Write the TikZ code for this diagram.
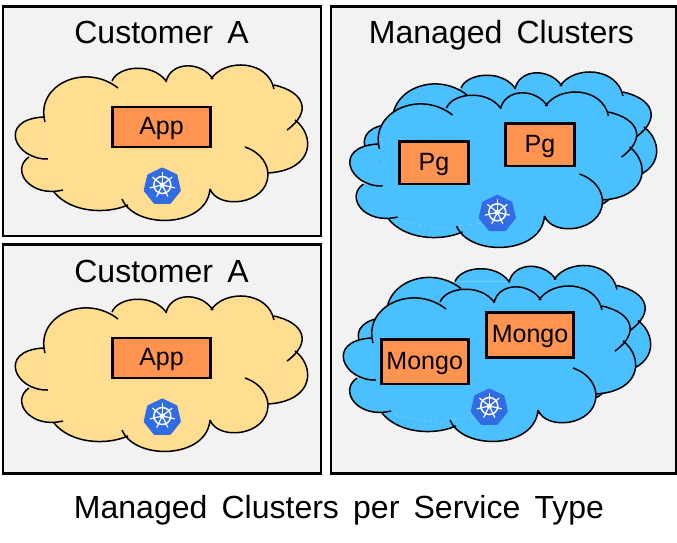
\documentclass[tikz,border=0pt]{standalone}
\usepackage{fontspec}
\setmainfont[WordSpace=1.6]{Liberation Sans}
\usetikzlibrary{positioning}
\usetikzlibrary{shapes.geometric}
\definecolor{panelgray}{HTML}{F2F2F2}
\definecolor{cloudyellow}{HTML}{FFDD91}
\definecolor{cloudblue}{HTML}{4AC0FF}
\definecolor{boxorange}{HTML}{FF9350}
\definecolor{wheelblue}{HTML}{326CE5}
\tikzset{
  panel/.style={draw=black,fill=panelgray,line width=2.6pt},
  headline/.style={anchor=base,font=\fontsize{32}{38}\selectfont,inner sep=0pt},
  svcbox/.style={draw=black,fill=boxorange,line width=2.6pt,inner sep=0pt,
    minimum height=40pt,text height=18.5pt,text depth=3pt,
    font=\fontsize{25}{29}\selectfont},
  wheelhept/.style={regular polygon,regular polygon sides=7,fill=wheelblue,draw=wheelblue,
    line width=3pt,line join=round,minimum size=35pt,inner sep=0pt},
  % one cloud, coordinates taken from the upper left one
  pics/cloudshape/.style={code={
    \fill[#1] (112,81) -- (166,81) -- (213,79) -- (274,85) -- (295,120) -- (268,173)
      -- (210,189) -- (122,199) -- (128,205) -- (54,192) -- (63,190) -- (29,157)
      -- (48,159) -- (43,117) -- (45,122) -- cycle;
    \draw[fill=#1,line width=1.5pt]
      (112,81) .. controls (118,66) and (152,62) .. (166,81)
      (166,82) .. controls (170,62) and (200,60) .. (213,79)
      (211,79) .. controls (225,58) and (268,60) .. (274,89)
      (274,85) .. controls (305,92) and (312,112) .. (287,130)
      (295,120) .. controls (315,135) and (315,170) .. (268,173)
      (245,147) .. controls (262,153) and (268,165) .. (268,175) .. controls (267,205) and (218,210) .. (210,189)
      (210,189) .. controls (207,228) and (135,230) .. (122,199)
      (128,205) .. controls (105,215) and (70,212) .. (54,192)
      (63,190) .. controls (30,198) and (10,170) .. (29,157)
      (48,159) .. controls (15,160) and (-3,120) .. (43,117)
      (45,122) .. controls (35,85) and (85,62) .. (118,88);
  }},
  % the wheel icon
  pics/wheelicon/.style={code={
    \node[wheelhept] (-hept) at (0,1.5) {};
    \draw[white,line width=1.5pt] (0,0) circle (8.5);
    \fill[white] (0,0) circle (2.6);
    \foreach \ang in {270,321.4,12.9,64.3,115.7,167.1,218.6} {
      \draw[white,line width=1.2pt,line cap=round] (0,0) -- (\ang:12.5);
    }
  }}
}
\begin{document}
\begin{tikzpicture}[x=1pt,y=-1pt]
\useasboundingbox (0,0) rectangle (677,543);
\fill[white] (0,0) rectangle (677,543);
% the three panels
\draw[panel] (3,6.5) rectangle (321,236);
\draw[panel] (3,244.5) rectangle (321,473.5);
\draw[panel] (331,6.5) rectangle (676,473.5);
% customer clouds
\pic at (0,0) {cloudshape=cloudyellow};
\pic at (0,231) {cloudshape=cloudyellow};
% managed clouds, the back one first
\pic at (349,7) {cloudshape=cloudblue};
\pic at (334.5,27) {cloudshape=cloudblue};
\pic at (343,200.5) {cloudshape=cloudblue};
\pic at (328,221) {cloudshape=cloudblue};
%%Titles
\node[headline] (titleA) at (161.5,43.5) {Customer A};
\node[headline] (titleB) at (161.5,282) {Customer A};
\node[headline] (titleC) at (501.5,43.5) {Managed Clusters};
\node[headline] (caption) at (339,518) {Managed Clusters per Service Type};
%%Service boxes
\node[svcbox,minimum width=98.5pt] (appA) at (161.5,127) {App};
\node[svcbox,minimum width=98.5pt] (appB) at (161.5,358) {App};
\node[svcbox,minimum width=68.5pt,minimum height=42.5pt] (pgA) at (434,162.8) {Pg};
\node[svcbox,minimum width=68.5pt,minimum height=42.5pt] (pgB) at (540,144.8) {Pg};
\node[svcbox,minimum width=87pt,minimum height=44.5pt] (mongoA) at (424.7,361.8) {Mongo};
\node[svcbox,minimum width=87pt,minimum height=45pt] (mongoB) at (530,335.2) {Mongo};
%%Wheel icons
\pic (wheelA) at (162.3,185) {wheelicon};
\pic (wheelB) at (162.3,416) {wheelicon};
\pic (wheelC) at (497.3,212.3) {wheelicon};
\pic (wheelD) at (489.3,406) {wheelicon};
\end{tikzpicture}
\end{document}
